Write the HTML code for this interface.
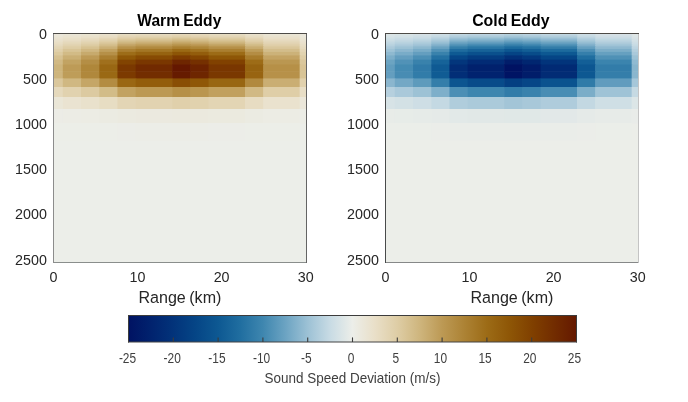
<!DOCTYPE html>
<html><head><meta charset="utf-8"><title>Eddy sound speed deviation</title>
<style>
html,body{margin:0;padding:0;background:#fff;}
body{width:688px;height:402px;overflow:hidden;}
svg{display:block;}
text{font-family:"Liberation Sans",sans-serif;fill:#262626;}
.tk{font-size:14.6px;}
.lb{font-size:16.5px;word-spacing:-1px;}
.tt{word-spacing:-1.2px;font-size:16.3px;font-weight:bold;fill:#000;}
.ck{font-size:15px;fill:#404040;}
.cl{font-size:14.2px;fill:#404040;}
</style></head><body>
<svg width="688" height="402" viewBox="0 0 688 402">
<defs><linearGradient id="cb" x1="0" x2="1" y1="0" y2="0">
<stop offset="0.0000" stop-color="#001262"/>
<stop offset="0.0500" stop-color="#01226e"/>
<stop offset="0.1000" stop-color="#02337a"/>
<stop offset="0.1500" stop-color="#054586"/>
<stop offset="0.2000" stop-color="#0d5892"/>
<stop offset="0.2500" stop-color="#206ea0"/>
<stop offset="0.3000" stop-color="#3e86af"/>
<stop offset="0.3500" stop-color="#6ba3c2"/>
<stop offset="0.4000" stop-color="#9cc1d5"/>
<stop offset="0.4500" stop-color="#c8dbe4"/>
<stop offset="0.5000" stop-color="#eceee9"/>
<stop offset="0.5500" stop-color="#e9dfc8"/>
<stop offset="0.6000" stop-color="#decda5"/>
<stop offset="0.6500" stop-color="#ceb57d"/>
<stop offset="0.7000" stop-color="#bc9954"/>
<stop offset="0.7500" stop-color="#ac8234"/>
<stop offset="0.8000" stop-color="#9c6b16"/>
<stop offset="0.8500" stop-color="#8e5606"/>
<stop offset="0.9000" stop-color="#804000"/>
<stop offset="0.9500" stop-color="#722c00"/>
<stop offset="1.0000" stop-color="#641800"/>
</linearGradient></defs>
<rect width="688" height="402" fill="#fff"/>
<g>
<rect x="53.50" y="33.50" width="253.00" height="229.00" fill="#eceee9"/>
<rect x="53.50" y="33.50" width="9.90" height="1.69" fill="#ebe8dc"/>
<rect x="62.80" y="33.50" width="18.82" height="1.69" fill="#ebe7d9"/>
<rect x="81.02" y="33.50" width="18.82" height="1.69" fill="#eae5d5"/>
<rect x="99.24" y="33.50" width="18.82" height="1.69" fill="#eae2cf"/>
<rect x="117.46" y="33.50" width="18.82" height="1.69" fill="#e8dec6"/>
<rect x="135.68" y="33.50" width="37.04" height="1.69" fill="#e7dcc3"/>
<rect x="172.12" y="33.50" width="18.82" height="1.69" fill="#e6dabf"/>
<rect x="190.34" y="33.50" width="18.82" height="1.69" fill="#e7dcc1"/>
<rect x="208.56" y="33.50" width="37.04" height="1.69" fill="#e8dec5"/>
<rect x="245.00" y="33.50" width="18.82" height="1.69" fill="#eae2ce"/>
<rect x="263.22" y="33.50" width="37.04" height="1.69" fill="#eae6d7"/>
<rect x="299.66" y="33.50" width="6.84" height="1.69" fill="#ebe9df"/>
<rect x="53.50" y="34.59" width="9.90" height="0.81" fill="#ebe7db"/>
<rect x="62.80" y="34.59" width="18.82" height="0.81" fill="#eae6d7"/>
<rect x="81.02" y="34.59" width="18.82" height="0.81" fill="#eae4d2"/>
<rect x="99.24" y="34.59" width="18.82" height="0.81" fill="#e9e1cc"/>
<rect x="117.46" y="34.59" width="18.82" height="0.81" fill="#e7dbc1"/>
<rect x="135.68" y="34.59" width="37.04" height="0.81" fill="#e6dabe"/>
<rect x="172.12" y="34.59" width="18.82" height="0.81" fill="#e4d7b9"/>
<rect x="190.34" y="34.59" width="18.82" height="0.81" fill="#e5d9bc"/>
<rect x="208.56" y="34.59" width="37.04" height="0.81" fill="#e7dbc0"/>
<rect x="245.00" y="34.59" width="18.82" height="0.81" fill="#e9e0cb"/>
<rect x="263.22" y="34.59" width="37.04" height="0.81" fill="#eae5d4"/>
<rect x="299.66" y="34.59" width="6.84" height="0.81" fill="#ebe9de"/>
<rect x="53.50" y="34.80" width="9.90" height="0.85" fill="#ebe7da"/>
<rect x="62.80" y="34.80" width="18.82" height="0.85" fill="#eae5d6"/>
<rect x="81.02" y="34.80" width="18.82" height="0.85" fill="#eae3d2"/>
<rect x="99.24" y="34.80" width="18.82" height="0.85" fill="#e9e0cb"/>
<rect x="117.46" y="34.80" width="18.82" height="0.85" fill="#e6dbc0"/>
<rect x="135.68" y="34.80" width="37.04" height="0.85" fill="#e5d9bc"/>
<rect x="172.12" y="34.80" width="18.82" height="0.85" fill="#e4d7b8"/>
<rect x="190.34" y="34.80" width="18.82" height="0.85" fill="#e5d8ba"/>
<rect x="208.56" y="34.80" width="37.04" height="0.85" fill="#e6dabf"/>
<rect x="245.00" y="34.80" width="18.82" height="0.85" fill="#e9e0ca"/>
<rect x="263.22" y="34.80" width="37.04" height="0.85" fill="#eae4d4"/>
<rect x="299.66" y="34.80" width="6.84" height="0.85" fill="#ebe9dd"/>
<rect x="53.50" y="35.05" width="9.90" height="0.90" fill="#ebe7da"/>
<rect x="62.80" y="35.05" width="18.82" height="0.90" fill="#eae5d5"/>
<rect x="81.02" y="35.05" width="18.82" height="0.90" fill="#eae3d1"/>
<rect x="99.24" y="35.05" width="18.82" height="0.90" fill="#e9e0ca"/>
<rect x="117.46" y="35.05" width="18.82" height="0.90" fill="#e6dabe"/>
<rect x="135.68" y="35.05" width="37.04" height="0.90" fill="#e5d8bb"/>
<rect x="172.12" y="35.05" width="18.82" height="0.90" fill="#e3d6b6"/>
<rect x="190.34" y="35.05" width="18.82" height="0.90" fill="#e4d7b9"/>
<rect x="208.56" y="35.05" width="37.04" height="0.90" fill="#e6dabe"/>
<rect x="245.00" y="35.05" width="18.82" height="0.90" fill="#e9dfc9"/>
<rect x="263.22" y="35.05" width="37.04" height="0.90" fill="#eae4d3"/>
<rect x="299.66" y="35.05" width="6.84" height="0.90" fill="#ebe9dd"/>
<rect x="53.50" y="35.35" width="9.90" height="0.96" fill="#ebe7d9"/>
<rect x="62.80" y="35.35" width="18.82" height="0.96" fill="#eae5d4"/>
<rect x="81.02" y="35.35" width="18.82" height="0.96" fill="#eae3d0"/>
<rect x="99.24" y="35.35" width="18.82" height="0.96" fill="#e9dfc9"/>
<rect x="117.46" y="35.35" width="18.82" height="0.96" fill="#e5d9bc"/>
<rect x="135.68" y="35.35" width="37.04" height="0.96" fill="#e4d7b9"/>
<rect x="172.12" y="35.35" width="18.82" height="0.96" fill="#e3d4b3"/>
<rect x="190.34" y="35.35" width="18.82" height="0.96" fill="#e4d6b7"/>
<rect x="208.56" y="35.35" width="37.04" height="0.96" fill="#e5d9bc"/>
<rect x="245.00" y="35.35" width="18.82" height="0.96" fill="#e9dfc7"/>
<rect x="263.22" y="35.35" width="37.04" height="0.96" fill="#eae4d2"/>
<rect x="299.66" y="35.35" width="6.84" height="0.96" fill="#ebe8dc"/>
<rect x="53.50" y="35.71" width="9.90" height="1.03" fill="#eae6d8"/>
<rect x="62.80" y="35.71" width="18.82" height="1.03" fill="#eae4d4"/>
<rect x="81.02" y="35.71" width="18.82" height="1.03" fill="#eae2cf"/>
<rect x="99.24" y="35.71" width="18.82" height="1.03" fill="#e9dec7"/>
<rect x="117.46" y="35.71" width="18.82" height="1.03" fill="#e5d8ba"/>
<rect x="135.68" y="35.71" width="37.04" height="1.03" fill="#e3d6b6"/>
<rect x="172.12" y="35.71" width="18.82" height="1.03" fill="#e2d3b1"/>
<rect x="190.34" y="35.71" width="18.82" height="1.03" fill="#e3d5b4"/>
<rect x="208.56" y="35.71" width="37.04" height="1.03" fill="#e4d8b9"/>
<rect x="245.00" y="35.71" width="18.82" height="1.03" fill="#e8dec6"/>
<rect x="263.22" y="35.71" width="37.04" height="1.03" fill="#eae3d1"/>
<rect x="299.66" y="35.71" width="6.84" height="1.03" fill="#ebe8dc"/>
<rect x="53.50" y="36.14" width="9.90" height="1.11" fill="#eae6d7"/>
<rect x="62.80" y="36.14" width="18.82" height="1.11" fill="#eae4d2"/>
<rect x="81.02" y="36.14" width="18.82" height="1.11" fill="#e9e1cd"/>
<rect x="99.24" y="36.14" width="18.82" height="1.11" fill="#e8ddc5"/>
<rect x="117.46" y="36.14" width="18.82" height="1.11" fill="#e4d6b7"/>
<rect x="135.68" y="36.14" width="37.04" height="1.11" fill="#e2d4b3"/>
<rect x="172.12" y="36.14" width="18.82" height="1.11" fill="#e1d1ad"/>
<rect x="190.34" y="36.14" width="18.82" height="1.11" fill="#e2d3b1"/>
<rect x="208.56" y="36.14" width="37.04" height="1.11" fill="#e3d6b6"/>
<rect x="245.00" y="36.14" width="18.82" height="1.11" fill="#e8ddc3"/>
<rect x="263.22" y="36.14" width="37.04" height="1.11" fill="#eae2cf"/>
<rect x="299.66" y="36.14" width="6.84" height="1.11" fill="#ebe8db"/>
<rect x="53.50" y="36.65" width="9.90" height="1.21" fill="#eae5d6"/>
<rect x="62.80" y="36.65" width="18.82" height="1.21" fill="#eae3d0"/>
<rect x="81.02" y="36.65" width="18.82" height="1.21" fill="#e9e0cb"/>
<rect x="99.24" y="36.65" width="18.82" height="1.21" fill="#e7dcc1"/>
<rect x="117.46" y="36.65" width="18.82" height="1.21" fill="#e2d4b3"/>
<rect x="135.68" y="36.65" width="37.04" height="1.21" fill="#e1d2ae"/>
<rect x="172.12" y="36.65" width="18.82" height="1.21" fill="#dfcea8"/>
<rect x="190.34" y="36.65" width="18.82" height="1.21" fill="#e0d0ac"/>
<rect x="208.56" y="36.65" width="37.04" height="1.21" fill="#e2d4b2"/>
<rect x="245.00" y="36.65" width="18.82" height="1.21" fill="#e6dbc0"/>
<rect x="263.22" y="36.65" width="37.04" height="1.21" fill="#e9e1cd"/>
<rect x="299.66" y="36.65" width="6.84" height="1.21" fill="#ebe7da"/>
<rect x="53.50" y="37.25" width="9.90" height="1.32" fill="#eae4d4"/>
<rect x="62.80" y="37.25" width="18.82" height="1.32" fill="#eae2ce"/>
<rect x="81.02" y="37.25" width="18.82" height="1.32" fill="#e9dfc8"/>
<rect x="99.24" y="37.25" width="18.82" height="1.32" fill="#e6dabe"/>
<rect x="117.46" y="37.25" width="18.82" height="1.32" fill="#e1d1ad"/>
<rect x="135.68" y="37.25" width="37.04" height="1.32" fill="#dfcfa8"/>
<rect x="172.12" y="37.25" width="18.82" height="1.32" fill="#dccba1"/>
<rect x="190.34" y="37.25" width="18.82" height="1.32" fill="#decda6"/>
<rect x="208.56" y="37.25" width="37.04" height="1.32" fill="#e0d1ad"/>
<rect x="245.00" y="37.25" width="18.82" height="1.32" fill="#e5d9bc"/>
<rect x="263.22" y="37.25" width="37.04" height="1.32" fill="#e9e0cb"/>
<rect x="299.66" y="37.25" width="6.84" height="1.32" fill="#eae6d8"/>
<rect x="53.50" y="37.98" width="9.90" height="1.46" fill="#eae3d2"/>
<rect x="62.80" y="37.98" width="18.82" height="1.46" fill="#e9e0cb"/>
<rect x="81.02" y="37.98" width="18.82" height="1.46" fill="#e8ddc4"/>
<rect x="99.24" y="37.98" width="18.82" height="1.46" fill="#e4d7b9"/>
<rect x="117.46" y="37.98" width="18.82" height="1.46" fill="#dfcea7"/>
<rect x="135.68" y="37.98" width="37.04" height="1.46" fill="#dccba1"/>
<rect x="172.12" y="37.98" width="18.82" height="1.46" fill="#d9c699"/>
<rect x="190.34" y="37.98" width="18.82" height="1.46" fill="#dbc99e"/>
<rect x="208.56" y="37.98" width="37.04" height="1.46" fill="#decea6"/>
<rect x="245.00" y="37.98" width="18.82" height="1.46" fill="#e4d6b7"/>
<rect x="263.22" y="37.98" width="37.04" height="1.46" fill="#e9dfc7"/>
<rect x="299.66" y="37.98" width="6.84" height="1.46" fill="#eae6d7"/>
<rect x="53.50" y="38.84" width="9.90" height="1.63" fill="#eae2cf"/>
<rect x="62.80" y="38.84" width="18.82" height="1.63" fill="#e9dfc8"/>
<rect x="81.02" y="38.84" width="18.82" height="1.63" fill="#e6dbc0"/>
<rect x="99.24" y="38.84" width="18.82" height="1.63" fill="#e3d4b3"/>
<rect x="117.46" y="38.84" width="18.82" height="1.63" fill="#dcc99f"/>
<rect x="135.68" y="38.84" width="37.04" height="1.63" fill="#d9c598"/>
<rect x="172.12" y="38.84" width="18.82" height="1.63" fill="#d5bf8e"/>
<rect x="190.34" y="38.84" width="18.82" height="1.63" fill="#d7c394"/>
<rect x="208.56" y="38.84" width="37.04" height="1.63" fill="#dbc99e"/>
<rect x="245.00" y="38.84" width="18.82" height="1.63" fill="#e2d3b2"/>
<rect x="263.22" y="38.84" width="37.04" height="1.63" fill="#e8ddc4"/>
<rect x="299.66" y="38.84" width="6.84" height="1.63" fill="#eae5d5"/>
<rect x="53.50" y="39.87" width="9.90" height="1.83" fill="#e9e1cc"/>
<rect x="62.80" y="39.87" width="18.82" height="1.83" fill="#e8ddc4"/>
<rect x="81.02" y="39.87" width="18.82" height="1.83" fill="#e5d8bb"/>
<rect x="99.24" y="39.87" width="18.82" height="1.83" fill="#e0d1ad"/>
<rect x="117.46" y="39.87" width="18.82" height="1.83" fill="#d7c394"/>
<rect x="135.68" y="39.87" width="37.04" height="1.83" fill="#d4be8d"/>
<rect x="172.12" y="39.87" width="18.82" height="1.83" fill="#d0b882"/>
<rect x="190.34" y="39.87" width="18.82" height="1.83" fill="#d3bc88"/>
<rect x="208.56" y="39.87" width="37.04" height="1.83" fill="#d7c293"/>
<rect x="245.00" y="39.87" width="18.82" height="1.83" fill="#e0d0ab"/>
<rect x="263.22" y="39.87" width="37.04" height="1.83" fill="#e6dabf"/>
<rect x="299.66" y="39.87" width="6.84" height="1.83" fill="#eae4d2"/>
<rect x="53.50" y="41.10" width="9.90" height="2.07" fill="#e9dfc8"/>
<rect x="62.80" y="41.10" width="18.82" height="2.07" fill="#e6dabe"/>
<rect x="81.02" y="41.10" width="18.82" height="2.07" fill="#e3d5b4"/>
<rect x="99.24" y="41.10" width="18.82" height="2.07" fill="#decda4"/>
<rect x="117.46" y="41.10" width="18.82" height="2.07" fill="#d2bc88"/>
<rect x="135.68" y="41.10" width="37.04" height="2.07" fill="#cfb67f"/>
<rect x="172.12" y="41.10" width="18.82" height="2.07" fill="#caae73"/>
<rect x="190.34" y="41.10" width="18.82" height="2.07" fill="#cdb37a"/>
<rect x="208.56" y="41.10" width="37.04" height="2.07" fill="#d2bb86"/>
<rect x="245.00" y="41.10" width="18.82" height="2.07" fill="#ddcba2"/>
<rect x="263.22" y="41.10" width="37.04" height="2.07" fill="#e4d7b9"/>
<rect x="299.66" y="41.10" width="6.84" height="2.07" fill="#eae2cf"/>
<rect x="53.50" y="42.57" width="9.90" height="2.35" fill="#e8ddc3"/>
<rect x="62.80" y="42.57" width="18.82" height="2.35" fill="#e4d7b8"/>
<rect x="81.02" y="42.57" width="18.82" height="2.35" fill="#e0d1ac"/>
<rect x="99.24" y="42.57" width="18.82" height="2.35" fill="#d9c598"/>
<rect x="117.46" y="42.57" width="18.82" height="2.35" fill="#ccb178"/>
<rect x="135.68" y="42.57" width="37.04" height="2.35" fill="#c7aa6d"/>
<rect x="172.12" y="42.57" width="18.82" height="2.35" fill="#c1a15f"/>
<rect x="190.34" y="42.57" width="18.82" height="2.35" fill="#c5a668"/>
<rect x="208.56" y="42.57" width="37.04" height="2.35" fill="#cbb076"/>
<rect x="245.00" y="42.57" width="18.82" height="2.35" fill="#d8c496"/>
<rect x="263.22" y="42.57" width="37.04" height="2.35" fill="#e2d3b2"/>
<rect x="299.66" y="42.57" width="6.84" height="2.35" fill="#e9e1cb"/>
<rect x="53.50" y="44.32" width="9.90" height="2.69" fill="#e5d9bd"/>
<rect x="62.80" y="44.32" width="18.82" height="2.69" fill="#e1d2af"/>
<rect x="81.02" y="44.32" width="18.82" height="2.69" fill="#dccba1"/>
<rect x="99.24" y="44.32" width="18.82" height="2.69" fill="#d3bc89"/>
<rect x="117.46" y="44.32" width="18.82" height="2.69" fill="#c2a262"/>
<rect x="135.68" y="44.32" width="37.04" height="2.69" fill="#bd9a55"/>
<rect x="172.12" y="44.32" width="18.82" height="2.69" fill="#b69148"/>
<rect x="190.34" y="44.32" width="18.82" height="2.69" fill="#ba9650"/>
<rect x="208.56" y="44.32" width="37.04" height="2.69" fill="#c1a15f"/>
<rect x="245.00" y="44.32" width="18.82" height="2.69" fill="#d1ba85"/>
<rect x="263.22" y="44.32" width="37.04" height="2.69" fill="#dfcea8"/>
<rect x="299.66" y="44.32" width="6.84" height="2.69" fill="#e8dec6"/>
<rect x="53.50" y="46.41" width="9.90" height="3.09" fill="#e3d5b4"/>
<rect x="62.80" y="46.41" width="18.82" height="3.09" fill="#decda5"/>
<rect x="81.02" y="46.41" width="18.82" height="3.09" fill="#d7c292"/>
<rect x="99.24" y="46.41" width="18.82" height="3.09" fill="#cbb076"/>
<rect x="117.46" y="46.41" width="18.82" height="3.09" fill="#b7924a"/>
<rect x="135.68" y="46.41" width="37.04" height="3.09" fill="#b18a3f"/>
<rect x="172.12" y="46.41" width="18.82" height="3.09" fill="#aa7f30"/>
<rect x="190.34" y="46.41" width="18.82" height="3.09" fill="#ae8639"/>
<rect x="208.56" y="46.41" width="37.04" height="3.09" fill="#b69048"/>
<rect x="245.00" y="46.41" width="18.82" height="3.09" fill="#c9ad71"/>
<rect x="263.22" y="46.41" width="37.04" height="3.09" fill="#dac79b"/>
<rect x="299.66" y="46.41" width="6.84" height="3.09" fill="#e6dbc0"/>
<rect x="53.50" y="48.90" width="9.90" height="3.57" fill="#e0d0ab"/>
<rect x="62.80" y="48.90" width="18.82" height="3.57" fill="#d8c496"/>
<rect x="81.02" y="48.90" width="18.82" height="3.57" fill="#d0b781"/>
<rect x="99.24" y="48.90" width="18.82" height="3.57" fill="#c1a05e"/>
<rect x="117.46" y="48.90" width="18.82" height="3.57" fill="#ab8032"/>
<rect x="135.68" y="48.90" width="37.04" height="3.57" fill="#a47725"/>
<rect x="172.12" y="48.90" width="18.82" height="3.57" fill="#9b6a15"/>
<rect x="190.34" y="48.90" width="18.82" height="3.57" fill="#a1721f"/>
<rect x="208.56" y="48.90" width="37.04" height="3.57" fill="#aa7f30"/>
<rect x="245.00" y="48.90" width="18.82" height="3.57" fill="#be9d59"/>
<rect x="263.22" y="48.90" width="37.04" height="3.57" fill="#d3bd8b"/>
<rect x="299.66" y="48.90" width="6.84" height="3.57" fill="#e4d7b8"/>
<rect x="53.50" y="51.88" width="9.90" height="4.15" fill="#dcca9f"/>
<rect x="62.80" y="51.88" width="18.82" height="4.15" fill="#d2bb86"/>
<rect x="81.02" y="51.88" width="18.82" height="4.15" fill="#c7aa6d"/>
<rect x="99.24" y="51.88" width="18.82" height="4.15" fill="#b69048"/>
<rect x="117.46" y="51.88" width="18.82" height="4.15" fill="#9d6d18"/>
<rect x="135.68" y="51.88" width="37.04" height="4.15" fill="#966310"/>
<rect x="172.12" y="51.88" width="18.82" height="4.15" fill="#8d5506"/>
<rect x="190.34" y="51.88" width="18.82" height="4.15" fill="#935d0c"/>
<rect x="208.56" y="51.88" width="37.04" height="4.15" fill="#9c6b16"/>
<rect x="245.00" y="51.88" width="18.82" height="4.15" fill="#b48d44"/>
<rect x="263.22" y="51.88" width="37.04" height="4.15" fill="#ccb279"/>
<rect x="299.66" y="51.88" width="6.84" height="4.15" fill="#e1d3b0"/>
<rect x="53.50" y="55.42" width="9.90" height="4.83" fill="#d6c191"/>
<rect x="62.80" y="55.42" width="18.82" height="4.83" fill="#caaf74"/>
<rect x="81.02" y="55.42" width="18.82" height="4.83" fill="#bd9a56"/>
<rect x="99.24" y="55.42" width="18.82" height="4.83" fill="#aa7f31"/>
<rect x="117.46" y="55.42" width="18.82" height="4.83" fill="#8f5807"/>
<rect x="135.68" y="55.42" width="37.04" height="4.83" fill="#874b03"/>
<rect x="172.12" y="55.42" width="18.82" height="4.83" fill="#7d3b00"/>
<rect x="190.34" y="55.42" width="18.82" height="4.83" fill="#834501"/>
<rect x="208.56" y="55.42" width="37.04" height="4.83" fill="#8e5606"/>
<rect x="245.00" y="55.42" width="18.82" height="4.83" fill="#a87c2c"/>
<rect x="263.22" y="55.42" width="37.04" height="4.83" fill="#c3a363"/>
<rect x="299.66" y="55.42" width="6.84" height="4.83" fill="#decda6"/>
<rect x="53.50" y="59.65" width="9.90" height="5.45" fill="#d1b984"/>
<rect x="62.80" y="59.65" width="18.82" height="5.45" fill="#c2a362"/>
<rect x="81.02" y="59.65" width="18.82" height="5.45" fill="#b48e45"/>
<rect x="99.24" y="59.65" width="18.82" height="5.45" fill="#a0701d"/>
<rect x="117.46" y="59.65" width="18.82" height="5.45" fill="#824401"/>
<rect x="135.68" y="59.65" width="37.04" height="5.45" fill="#7a3700"/>
<rect x="172.12" y="59.65" width="18.82" height="5.45" fill="#6e2600"/>
<rect x="190.34" y="59.65" width="18.82" height="5.45" fill="#753000"/>
<rect x="208.56" y="59.65" width="37.04" height="5.45" fill="#814100"/>
<rect x="245.00" y="59.65" width="18.82" height="5.45" fill="#9d6c17"/>
<rect x="263.22" y="59.65" width="37.04" height="5.45" fill="#ba9751"/>
<rect x="299.66" y="59.65" width="6.84" height="5.45" fill="#dac79c"/>
<rect x="53.50" y="64.50" width="9.90" height="7.30" fill="#cdb47b"/>
<rect x="62.80" y="64.50" width="18.82" height="7.30" fill="#bd9b57"/>
<rect x="81.02" y="64.50" width="18.82" height="7.30" fill="#af873a"/>
<rect x="99.24" y="64.50" width="18.82" height="7.30" fill="#996713"/>
<rect x="117.46" y="64.50" width="18.82" height="7.30" fill="#7a3800"/>
<rect x="135.68" y="64.50" width="37.04" height="7.30" fill="#712a00"/>
<rect x="172.12" y="64.50" width="18.82" height="7.30" fill="#641800"/>
<rect x="190.34" y="64.50" width="18.82" height="7.30" fill="#6c2300"/>
<rect x="208.56" y="64.50" width="37.04" height="7.30" fill="#793600"/>
<rect x="245.00" y="64.50" width="18.82" height="7.30" fill="#966310"/>
<rect x="263.22" y="64.50" width="37.04" height="7.30" fill="#b69047"/>
<rect x="299.66" y="64.50" width="6.84" height="7.30" fill="#d8c395"/>
<rect x="53.50" y="71.20" width="9.90" height="7.80" fill="#ceb57d"/>
<rect x="62.80" y="71.20" width="18.82" height="7.80" fill="#be9d59"/>
<rect x="81.02" y="71.20" width="18.82" height="7.80" fill="#b0883c"/>
<rect x="99.24" y="71.20" width="18.82" height="7.80" fill="#9a6914"/>
<rect x="117.46" y="71.20" width="18.82" height="7.80" fill="#7c3a00"/>
<rect x="135.68" y="71.20" width="37.04" height="7.80" fill="#732d00"/>
<rect x="172.12" y="71.20" width="18.82" height="7.80" fill="#661b00"/>
<rect x="190.34" y="71.20" width="18.82" height="7.80" fill="#6e2600"/>
<rect x="208.56" y="71.20" width="37.04" height="7.80" fill="#7a3800"/>
<rect x="245.00" y="71.20" width="18.82" height="7.80" fill="#986411"/>
<rect x="263.22" y="71.20" width="37.04" height="7.80" fill="#b79149"/>
<rect x="299.66" y="71.20" width="6.84" height="7.80" fill="#d8c496"/>
<rect x="53.50" y="78.40" width="9.90" height="9.20" fill="#dac79c"/>
<rect x="62.80" y="78.40" width="18.82" height="9.20" fill="#d0b882"/>
<rect x="81.02" y="78.40" width="18.82" height="9.20" fill="#c5a667"/>
<rect x="99.24" y="78.40" width="18.82" height="9.20" fill="#b38c42"/>
<rect x="117.46" y="78.40" width="18.82" height="9.20" fill="#9a6713"/>
<rect x="135.68" y="78.40" width="37.04" height="9.20" fill="#935d0b"/>
<rect x="172.12" y="78.40" width="18.82" height="9.20" fill="#894e04"/>
<rect x="190.34" y="78.40" width="18.82" height="9.20" fill="#8f5707"/>
<rect x="208.56" y="78.40" width="37.04" height="9.20" fill="#986612"/>
<rect x="245.00" y="78.40" width="18.82" height="9.20" fill="#b1893e"/>
<rect x="263.22" y="78.40" width="37.04" height="9.20" fill="#caae73"/>
<rect x="299.66" y="78.40" width="6.84" height="9.20" fill="#e1d1ad"/>
<rect x="53.50" y="87.00" width="9.90" height="10.60" fill="#e5d9bc"/>
<rect x="62.80" y="87.00" width="18.82" height="10.60" fill="#e1d2af"/>
<rect x="81.02" y="87.00" width="18.82" height="10.60" fill="#dccaa1"/>
<rect x="99.24" y="87.00" width="18.82" height="10.60" fill="#d2bc88"/>
<rect x="117.46" y="87.00" width="18.82" height="10.60" fill="#c2a261"/>
<rect x="135.68" y="87.00" width="37.04" height="10.60" fill="#bc9954"/>
<rect x="172.12" y="87.00" width="18.82" height="10.60" fill="#b69047"/>
<rect x="190.34" y="87.00" width="18.82" height="10.60" fill="#ba964f"/>
<rect x="208.56" y="87.00" width="37.04" height="10.60" fill="#c1a05e"/>
<rect x="245.00" y="87.00" width="18.82" height="10.60" fill="#d1b984"/>
<rect x="263.22" y="87.00" width="37.04" height="10.60" fill="#dfcea7"/>
<rect x="299.66" y="87.00" width="6.84" height="10.60" fill="#e8dec6"/>
<rect x="53.50" y="97.00" width="9.90" height="12.60" fill="#eae6d7"/>
<rect x="62.80" y="97.00" width="18.82" height="12.60" fill="#eae3d1"/>
<rect x="81.02" y="97.00" width="18.82" height="12.60" fill="#e9e1cc"/>
<rect x="99.24" y="97.00" width="18.82" height="12.60" fill="#e7ddc3"/>
<rect x="117.46" y="97.00" width="18.82" height="12.60" fill="#e3d5b5"/>
<rect x="135.68" y="97.00" width="37.04" height="12.60" fill="#e2d3b1"/>
<rect x="172.12" y="97.00" width="18.82" height="12.60" fill="#e0d0ab"/>
<rect x="190.34" y="97.00" width="18.82" height="12.60" fill="#e1d2ae"/>
<rect x="208.56" y="97.00" width="37.04" height="12.60" fill="#e3d5b4"/>
<rect x="245.00" y="97.00" width="18.82" height="12.60" fill="#e7dcc2"/>
<rect x="263.22" y="97.00" width="37.04" height="12.60" fill="#eae2ce"/>
<rect x="299.66" y="97.00" width="6.84" height="12.60" fill="#ebe7da"/>
<rect x="53.50" y="109.00" width="9.90" height="14.60" fill="#ecece6"/>
<rect x="62.80" y="109.00" width="18.82" height="14.60" fill="#ecece5"/>
<rect x="81.02" y="109.00" width="18.82" height="14.60" fill="#ecece4"/>
<rect x="99.24" y="109.00" width="18.82" height="14.60" fill="#ebebe2"/>
<rect x="117.46" y="109.00" width="18.82" height="14.60" fill="#ebeae0"/>
<rect x="135.68" y="109.00" width="37.04" height="14.60" fill="#ebe9df"/>
<rect x="172.12" y="109.00" width="37.04" height="14.60" fill="#ebe9de"/>
<rect x="208.56" y="109.00" width="37.04" height="14.60" fill="#ebeadf"/>
<rect x="245.00" y="109.00" width="18.82" height="14.60" fill="#ebebe2"/>
<rect x="263.22" y="109.00" width="37.04" height="14.60" fill="#ecece4"/>
<rect x="299.66" y="109.00" width="6.84" height="14.60" fill="#ecede6"/>
<rect x="53.50" y="123.00" width="64.56" height="17.60" fill="#eceee8"/>
<rect x="117.46" y="123.00" width="18.82" height="17.60" fill="#ecede8"/>
<rect x="135.68" y="123.00" width="73.48" height="17.60" fill="#ecede7"/>
<rect x="208.56" y="123.00" width="37.04" height="17.60" fill="#ecede8"/>
<rect x="245.00" y="123.00" width="55.26" height="17.60" fill="#eceee8"/>
</g>
<path d="M53.0 262.5 H307.0" stroke="#8a8e8c" stroke-width="1"/>
<path d="M306.5 33.0 V263.0" stroke="#646464" stroke-width="1"/>
<path d="M53.5 33.0 V263.0" stroke="#8c8c8c" stroke-width="1"/>
<path d="M53.0 33.5 H307.0" stroke="#4d4b47" stroke-width="1"/>
<g>
<rect x="385.50" y="33.50" width="253.00" height="229.00" fill="#eceee9"/>
<rect x="385.50" y="33.50" width="9.90" height="1.69" fill="#dde6e7"/>
<rect x="394.80" y="33.50" width="18.82" height="1.69" fill="#dbe5e7"/>
<rect x="413.02" y="33.50" width="18.82" height="1.69" fill="#d8e3e6"/>
<rect x="431.24" y="33.50" width="18.82" height="1.69" fill="#d1e0e5"/>
<rect x="449.46" y="33.50" width="18.82" height="1.69" fill="#c5d9e3"/>
<rect x="467.68" y="33.50" width="37.04" height="1.69" fill="#c2d7e2"/>
<rect x="504.12" y="33.50" width="18.82" height="1.69" fill="#bcd4e0"/>
<rect x="522.34" y="33.50" width="18.82" height="1.69" fill="#c0d6e1"/>
<rect x="540.56" y="33.50" width="37.04" height="1.69" fill="#c5d9e3"/>
<rect x="577.00" y="33.50" width="18.82" height="1.69" fill="#d0dfe5"/>
<rect x="595.22" y="33.50" width="37.04" height="1.69" fill="#d8e3e6"/>
<rect x="631.66" y="33.50" width="6.84" height="1.69" fill="#e1e8e7"/>
<rect x="385.50" y="34.59" width="9.90" height="0.81" fill="#dce5e7"/>
<rect x="394.80" y="34.59" width="18.82" height="0.81" fill="#d8e4e6"/>
<rect x="413.02" y="34.59" width="18.82" height="0.81" fill="#d5e2e6"/>
<rect x="431.24" y="34.59" width="18.82" height="0.81" fill="#cedee5"/>
<rect x="449.46" y="34.59" width="18.82" height="0.81" fill="#bfd6e1"/>
<rect x="467.68" y="34.59" width="37.04" height="0.81" fill="#bbd3e0"/>
<rect x="504.12" y="34.59" width="18.82" height="0.81" fill="#b5d0de"/>
<rect x="522.34" y="34.59" width="18.82" height="0.81" fill="#b9d2df"/>
<rect x="540.56" y="34.59" width="37.04" height="0.81" fill="#bed5e1"/>
<rect x="577.00" y="34.59" width="18.82" height="0.81" fill="#cddee5"/>
<rect x="595.22" y="34.59" width="37.04" height="0.81" fill="#d5e2e6"/>
<rect x="631.66" y="34.59" width="6.84" height="0.81" fill="#e0e7e7"/>
<rect x="385.50" y="34.80" width="9.90" height="0.85" fill="#dbe5e7"/>
<rect x="394.80" y="34.80" width="18.82" height="0.85" fill="#d8e3e6"/>
<rect x="413.02" y="34.80" width="18.82" height="0.85" fill="#d4e1e6"/>
<rect x="431.24" y="34.80" width="18.82" height="0.85" fill="#cddde5"/>
<rect x="449.46" y="34.80" width="18.82" height="0.85" fill="#bed5e0"/>
<rect x="467.68" y="34.80" width="37.04" height="0.85" fill="#b9d2df"/>
<rect x="504.12" y="34.80" width="18.82" height="0.85" fill="#b3cfdd"/>
<rect x="522.34" y="34.80" width="18.82" height="0.85" fill="#b7d1de"/>
<rect x="540.56" y="34.80" width="37.04" height="0.85" fill="#bdd4e0"/>
<rect x="577.00" y="34.80" width="18.82" height="0.85" fill="#ccdde5"/>
<rect x="595.22" y="34.80" width="37.04" height="0.85" fill="#d5e2e6"/>
<rect x="631.66" y="34.80" width="6.84" height="0.85" fill="#dfe7e7"/>
<rect x="385.50" y="35.05" width="9.90" height="0.90" fill="#dae5e7"/>
<rect x="394.80" y="35.05" width="18.82" height="0.90" fill="#d7e3e6"/>
<rect x="413.02" y="35.05" width="18.82" height="0.90" fill="#d3e1e6"/>
<rect x="431.24" y="35.05" width="18.82" height="0.90" fill="#ccdde4"/>
<rect x="449.46" y="35.05" width="18.82" height="0.90" fill="#bcd4e0"/>
<rect x="467.68" y="35.05" width="37.04" height="0.90" fill="#b7d1de"/>
<rect x="504.12" y="35.05" width="18.82" height="0.90" fill="#b1cddc"/>
<rect x="522.34" y="35.05" width="18.82" height="0.90" fill="#b5d0dd"/>
<rect x="540.56" y="35.05" width="37.04" height="0.90" fill="#bbd3e0"/>
<rect x="577.00" y="35.05" width="18.82" height="0.90" fill="#cbdce4"/>
<rect x="595.22" y="35.05" width="37.04" height="0.90" fill="#d4e1e6"/>
<rect x="631.66" y="35.05" width="6.84" height="0.90" fill="#dfe7e7"/>
<rect x="385.50" y="35.35" width="9.90" height="0.96" fill="#dae4e6"/>
<rect x="394.80" y="35.35" width="18.82" height="0.96" fill="#d6e2e6"/>
<rect x="413.02" y="35.35" width="18.82" height="0.96" fill="#d2e0e5"/>
<rect x="431.24" y="35.35" width="18.82" height="0.96" fill="#cadce4"/>
<rect x="449.46" y="35.35" width="18.82" height="0.96" fill="#b9d2df"/>
<rect x="467.68" y="35.35" width="37.04" height="0.96" fill="#b5d0dd"/>
<rect x="504.12" y="35.35" width="18.82" height="0.96" fill="#aeccdb"/>
<rect x="522.34" y="35.35" width="18.82" height="0.96" fill="#b2cedd"/>
<rect x="540.56" y="35.35" width="37.04" height="0.96" fill="#b9d2df"/>
<rect x="577.00" y="35.35" width="18.82" height="0.96" fill="#c9dce4"/>
<rect x="595.22" y="35.35" width="37.04" height="0.96" fill="#d3e1e6"/>
<rect x="631.66" y="35.35" width="6.84" height="0.96" fill="#dee7e7"/>
<rect x="385.50" y="35.71" width="9.90" height="1.03" fill="#d9e4e6"/>
<rect x="394.80" y="35.71" width="18.82" height="1.03" fill="#d5e2e6"/>
<rect x="413.02" y="35.71" width="18.82" height="1.03" fill="#d1e0e5"/>
<rect x="431.24" y="35.71" width="18.82" height="1.03" fill="#c9dbe4"/>
<rect x="449.46" y="35.71" width="18.82" height="1.03" fill="#b7d1de"/>
<rect x="467.68" y="35.71" width="37.04" height="1.03" fill="#b2cedc"/>
<rect x="504.12" y="35.71" width="18.82" height="1.03" fill="#abcada"/>
<rect x="522.34" y="35.71" width="18.82" height="1.03" fill="#afccdb"/>
<rect x="540.56" y="35.71" width="37.04" height="1.03" fill="#b6d0de"/>
<rect x="577.00" y="35.71" width="18.82" height="1.03" fill="#c8dbe4"/>
<rect x="595.22" y="35.71" width="37.04" height="1.03" fill="#d2e0e5"/>
<rect x="631.66" y="35.71" width="6.84" height="1.03" fill="#dee6e7"/>
<rect x="385.50" y="36.14" width="9.90" height="1.11" fill="#d8e3e6"/>
<rect x="394.80" y="36.14" width="18.82" height="1.11" fill="#d4e1e6"/>
<rect x="413.02" y="36.14" width="18.82" height="1.11" fill="#cfdfe5"/>
<rect x="431.24" y="36.14" width="18.82" height="1.11" fill="#c6dae3"/>
<rect x="449.46" y="36.14" width="18.82" height="1.11" fill="#b3cedd"/>
<rect x="467.68" y="36.14" width="37.04" height="1.11" fill="#adcbdb"/>
<rect x="504.12" y="36.14" width="18.82" height="1.11" fill="#a6c7d8"/>
<rect x="522.34" y="36.14" width="18.82" height="1.11" fill="#abcada"/>
<rect x="540.56" y="36.14" width="37.04" height="1.11" fill="#b2cedc"/>
<rect x="577.00" y="36.14" width="18.82" height="1.11" fill="#c5d9e3"/>
<rect x="595.22" y="36.14" width="37.04" height="1.11" fill="#d0dfe5"/>
<rect x="631.66" y="36.14" width="6.84" height="1.11" fill="#dde6e7"/>
<rect x="385.50" y="36.65" width="9.90" height="1.21" fill="#d6e2e6"/>
<rect x="394.80" y="36.65" width="18.82" height="1.21" fill="#d1e0e5"/>
<rect x="413.02" y="36.65" width="18.82" height="1.21" fill="#cddee5"/>
<rect x="431.24" y="36.65" width="18.82" height="1.21" fill="#c2d7e2"/>
<rect x="449.46" y="36.65" width="18.82" height="1.21" fill="#adcbdb"/>
<rect x="467.68" y="36.65" width="37.04" height="1.21" fill="#a7c8d9"/>
<rect x="504.12" y="36.65" width="18.82" height="1.21" fill="#a0c3d6"/>
<rect x="522.34" y="36.65" width="18.82" height="1.21" fill="#a4c6d8"/>
<rect x="540.56" y="36.65" width="37.04" height="1.21" fill="#accbda"/>
<rect x="577.00" y="36.65" width="18.82" height="1.21" fill="#c1d7e2"/>
<rect x="595.22" y="36.65" width="37.04" height="1.21" fill="#cedee5"/>
<rect x="631.66" y="36.65" width="6.84" height="1.21" fill="#dbe5e7"/>
<rect x="385.50" y="37.25" width="9.90" height="1.32" fill="#d4e1e6"/>
<rect x="394.80" y="37.25" width="18.82" height="1.32" fill="#cfdfe5"/>
<rect x="413.02" y="37.25" width="18.82" height="1.32" fill="#cadce4"/>
<rect x="431.24" y="37.25" width="18.82" height="1.32" fill="#bdd5e0"/>
<rect x="449.46" y="37.25" width="18.82" height="1.32" fill="#a7c7d9"/>
<rect x="467.68" y="37.25" width="37.04" height="1.32" fill="#a0c4d6"/>
<rect x="504.12" y="37.25" width="18.82" height="1.32" fill="#97bed3"/>
<rect x="522.34" y="37.25" width="18.82" height="1.32" fill="#9dc2d5"/>
<rect x="540.56" y="37.25" width="37.04" height="1.32" fill="#a5c7d8"/>
<rect x="577.00" y="37.25" width="18.82" height="1.32" fill="#bcd4e0"/>
<rect x="595.22" y="37.25" width="37.04" height="1.32" fill="#cbdce4"/>
<rect x="631.66" y="37.25" width="6.84" height="1.32" fill="#dae4e6"/>
<rect x="385.50" y="37.98" width="9.90" height="1.46" fill="#d1e0e5"/>
<rect x="394.80" y="37.98" width="18.82" height="1.46" fill="#ccdde5"/>
<rect x="413.02" y="37.98" width="18.82" height="1.46" fill="#c7dae4"/>
<rect x="431.24" y="37.98" width="18.82" height="1.46" fill="#b8d2df"/>
<rect x="449.46" y="37.98" width="18.82" height="1.46" fill="#9fc3d6"/>
<rect x="467.68" y="37.98" width="37.04" height="1.46" fill="#97bed3"/>
<rect x="504.12" y="37.98" width="18.82" height="1.46" fill="#8db8cf"/>
<rect x="522.34" y="37.98" width="18.82" height="1.46" fill="#93bcd2"/>
<rect x="540.56" y="37.98" width="37.04" height="1.46" fill="#9ec2d6"/>
<rect x="577.00" y="37.98" width="18.82" height="1.46" fill="#b6d1de"/>
<rect x="595.22" y="37.98" width="37.04" height="1.46" fill="#c7dbe4"/>
<rect x="631.66" y="37.98" width="6.84" height="1.46" fill="#d8e3e6"/>
<rect x="385.50" y="38.84" width="9.90" height="1.63" fill="#cedee5"/>
<rect x="394.80" y="38.84" width="18.82" height="1.63" fill="#c9dbe4"/>
<rect x="413.02" y="38.84" width="18.82" height="1.63" fill="#c1d7e2"/>
<rect x="431.24" y="38.84" width="18.82" height="1.63" fill="#b1cedc"/>
<rect x="449.46" y="38.84" width="18.82" height="1.63" fill="#94bcd2"/>
<rect x="467.68" y="38.84" width="37.04" height="1.63" fill="#8cb7cf"/>
<rect x="504.12" y="38.84" width="18.82" height="1.63" fill="#80b0ca"/>
<rect x="522.34" y="38.84" width="18.82" height="1.63" fill="#87b4cd"/>
<rect x="540.56" y="38.84" width="37.04" height="1.63" fill="#93bbd1"/>
<rect x="577.00" y="38.84" width="18.82" height="1.63" fill="#afccdc"/>
<rect x="595.22" y="38.84" width="37.04" height="1.63" fill="#c2d8e2"/>
<rect x="631.66" y="38.84" width="6.84" height="1.63" fill="#d6e2e6"/>
<rect x="385.50" y="39.87" width="9.90" height="1.83" fill="#cbdde4"/>
<rect x="394.80" y="39.87" width="18.82" height="1.83" fill="#c3d8e2"/>
<rect x="413.02" y="39.87" width="18.82" height="1.83" fill="#bbd4e0"/>
<rect x="431.24" y="39.87" width="18.82" height="1.83" fill="#a9c9d9"/>
<rect x="449.46" y="39.87" width="18.82" height="1.83" fill="#88b5cd"/>
<rect x="467.68" y="39.87" width="37.04" height="1.83" fill="#7eafc9"/>
<rect x="504.12" y="39.87" width="18.82" height="1.83" fill="#71a7c4"/>
<rect x="522.34" y="39.87" width="18.82" height="1.83" fill="#79acc7"/>
<rect x="540.56" y="39.87" width="37.04" height="1.83" fill="#86b4cc"/>
<rect x="577.00" y="39.87" width="18.82" height="1.83" fill="#a7c8d9"/>
<rect x="595.22" y="39.87" width="37.04" height="1.83" fill="#bcd4e0"/>
<rect x="631.66" y="39.87" width="6.84" height="1.83" fill="#d3e1e6"/>
<rect x="385.50" y="41.10" width="9.90" height="2.07" fill="#c6dae3"/>
<rect x="394.80" y="41.10" width="18.82" height="2.07" fill="#bdd5e0"/>
<rect x="413.02" y="41.10" width="18.82" height="2.07" fill="#b4cfdd"/>
<rect x="431.24" y="41.10" width="18.82" height="2.07" fill="#9fc3d6"/>
<rect x="449.46" y="41.10" width="18.82" height="2.07" fill="#78abc7"/>
<rect x="467.68" y="41.10" width="37.04" height="2.07" fill="#6ea5c3"/>
<rect x="504.12" y="41.10" width="18.82" height="2.07" fill="#609cbd"/>
<rect x="522.34" y="41.10" width="18.82" height="2.07" fill="#68a1c1"/>
<rect x="540.56" y="41.10" width="37.04" height="2.07" fill="#76aac6"/>
<rect x="577.00" y="41.10" width="18.82" height="2.07" fill="#9dc2d5"/>
<rect x="595.22" y="41.10" width="37.04" height="2.07" fill="#b5d0de"/>
<rect x="631.66" y="41.10" width="6.84" height="2.07" fill="#d0dfe5"/>
<rect x="385.50" y="42.57" width="9.90" height="2.35" fill="#bfd6e1"/>
<rect x="394.80" y="42.57" width="18.82" height="2.35" fill="#b5d0de"/>
<rect x="413.02" y="42.57" width="18.82" height="2.35" fill="#aacada"/>
<rect x="431.24" y="42.57" width="18.82" height="2.35" fill="#92bbd1"/>
<rect x="449.46" y="42.57" width="18.82" height="2.35" fill="#659fbf"/>
<rect x="467.68" y="42.57" width="37.04" height="2.35" fill="#5a98bb"/>
<rect x="504.12" y="42.57" width="18.82" height="2.35" fill="#4a8eb4"/>
<rect x="522.34" y="42.57" width="18.82" height="2.35" fill="#5494b8"/>
<rect x="540.56" y="42.57" width="37.04" height="2.35" fill="#639ebf"/>
<rect x="577.00" y="42.57" width="18.82" height="2.35" fill="#8fb9d0"/>
<rect x="595.22" y="42.57" width="37.04" height="2.35" fill="#accada"/>
<rect x="631.66" y="42.57" width="6.84" height="2.35" fill="#ccdde5"/>
<rect x="385.50" y="44.32" width="9.90" height="2.69" fill="#b6d1de"/>
<rect x="394.80" y="44.32" width="18.82" height="2.69" fill="#aac9da"/>
<rect x="413.02" y="44.32" width="18.82" height="2.69" fill="#9ec2d6"/>
<rect x="431.24" y="44.32" width="18.82" height="2.69" fill="#7fafca"/>
<rect x="449.46" y="44.32" width="18.82" height="2.69" fill="#4d90b5"/>
<rect x="467.68" y="44.32" width="37.04" height="2.69" fill="#3f87b0"/>
<rect x="504.12" y="44.32" width="18.82" height="2.69" fill="#337da9"/>
<rect x="522.34" y="44.32" width="18.82" height="2.69" fill="#3a83ad"/>
<rect x="540.56" y="44.32" width="37.04" height="2.69" fill="#4a8eb4"/>
<rect x="577.00" y="44.32" width="18.82" height="2.69" fill="#7cadc9"/>
<rect x="595.22" y="44.32" width="37.04" height="2.69" fill="#9fc3d6"/>
<rect x="631.66" y="44.32" width="6.84" height="2.69" fill="#c6dae3"/>
<rect x="385.50" y="46.41" width="9.90" height="3.09" fill="#accada"/>
<rect x="394.80" y="46.41" width="18.82" height="3.09" fill="#9dc2d5"/>
<rect x="413.02" y="46.41" width="18.82" height="3.09" fill="#8db8cf"/>
<rect x="431.24" y="46.41" width="18.82" height="3.09" fill="#69a2c1"/>
<rect x="449.46" y="46.41" width="18.82" height="3.09" fill="#357faa"/>
<rect x="467.68" y="46.41" width="37.04" height="3.09" fill="#2a76a5"/>
<rect x="504.12" y="46.41" width="18.82" height="3.09" fill="#1d6b9e"/>
<rect x="522.34" y="46.41" width="18.82" height="3.09" fill="#2572a2"/>
<rect x="540.56" y="46.41" width="37.04" height="3.09" fill="#337da9"/>
<rect x="577.00" y="46.41" width="18.82" height="3.09" fill="#66a0c0"/>
<rect x="595.22" y="46.41" width="37.04" height="3.09" fill="#8fb9d0"/>
<rect x="631.66" y="46.41" width="6.84" height="3.09" fill="#bed5e1"/>
<rect x="385.50" y="48.90" width="9.90" height="3.57" fill="#9fc3d6"/>
<rect x="394.80" y="48.90" width="18.82" height="3.57" fill="#8cb7cf"/>
<rect x="413.02" y="48.90" width="18.82" height="3.57" fill="#79acc8"/>
<rect x="431.24" y="48.90" width="18.82" height="3.57" fill="#5192b7"/>
<rect x="449.46" y="48.90" width="18.82" height="3.57" fill="#1f6c9f"/>
<rect x="467.68" y="48.90" width="37.04" height="3.57" fill="#176399"/>
<rect x="504.12" y="48.90" width="18.82" height="3.57" fill="#0d5791"/>
<rect x="522.34" y="48.90" width="18.82" height="3.57" fill="#135f96"/>
<rect x="540.56" y="48.90" width="37.04" height="3.57" fill="#1d6b9e"/>
<rect x="577.00" y="48.90" width="18.82" height="3.57" fill="#4d8fb5"/>
<rect x="595.22" y="48.90" width="37.04" height="3.57" fill="#7cadc8"/>
<rect x="631.66" y="48.90" width="6.84" height="3.57" fill="#b4cfdd"/>
<rect x="385.50" y="51.88" width="9.90" height="4.15" fill="#8fb9d0"/>
<rect x="394.80" y="51.88" width="18.82" height="4.15" fill="#79acc8"/>
<rect x="413.02" y="51.88" width="18.82" height="4.15" fill="#649ebf"/>
<rect x="431.24" y="51.88" width="18.82" height="4.15" fill="#3982ac"/>
<rect x="449.46" y="51.88" width="18.82" height="4.15" fill="#0e5a93"/>
<rect x="467.68" y="51.88" width="37.04" height="4.15" fill="#0a508d"/>
<rect x="504.12" y="51.88" width="18.82" height="4.15" fill="#054485"/>
<rect x="522.34" y="51.88" width="18.82" height="4.15" fill="#084c8a"/>
<rect x="540.56" y="51.88" width="37.04" height="4.15" fill="#0d5892"/>
<rect x="577.00" y="51.88" width="18.82" height="4.15" fill="#357fab"/>
<rect x="595.22" y="51.88" width="37.04" height="4.15" fill="#66a0c0"/>
<rect x="631.66" y="51.88" width="6.84" height="4.15" fill="#aac9da"/>
<rect x="385.50" y="55.42" width="9.90" height="4.83" fill="#7daec9"/>
<rect x="394.80" y="55.42" width="18.82" height="4.83" fill="#649ebf"/>
<rect x="413.02" y="55.42" width="18.82" height="4.83" fill="#4c8fb5"/>
<rect x="431.24" y="55.42" width="18.82" height="4.83" fill="#2471a2"/>
<rect x="449.46" y="55.42" width="18.82" height="4.83" fill="#064687"/>
<rect x="467.68" y="55.42" width="37.04" height="4.83" fill="#043c80"/>
<rect x="504.12" y="55.42" width="18.82" height="4.83" fill="#022f77"/>
<rect x="522.34" y="55.42" width="18.82" height="4.83" fill="#03377d"/>
<rect x="540.56" y="55.42" width="37.04" height="4.83" fill="#054586"/>
<rect x="577.00" y="55.42" width="18.82" height="4.83" fill="#206ea0"/>
<rect x="595.22" y="55.42" width="37.04" height="4.83" fill="#4f91b6"/>
<rect x="631.66" y="55.42" width="6.84" height="4.83" fill="#9dc2d5"/>
<rect x="385.50" y="59.65" width="9.90" height="5.45" fill="#6ca4c2"/>
<rect x="394.80" y="59.65" width="18.82" height="5.45" fill="#5192b7"/>
<rect x="413.02" y="59.65" width="18.82" height="5.45" fill="#3982ac"/>
<rect x="431.24" y="59.65" width="18.82" height="5.45" fill="#166399"/>
<rect x="449.46" y="59.65" width="18.82" height="5.45" fill="#03367c"/>
<rect x="467.68" y="59.65" width="37.04" height="5.45" fill="#022b75"/>
<rect x="504.12" y="59.65" width="18.82" height="5.45" fill="#011d6a"/>
<rect x="522.34" y="59.65" width="18.82" height="5.45" fill="#012670"/>
<rect x="540.56" y="59.65" width="37.04" height="5.45" fill="#02347b"/>
<rect x="577.00" y="59.65" width="18.82" height="5.45" fill="#135f97"/>
<rect x="595.22" y="59.65" width="37.04" height="5.45" fill="#3b84ae"/>
<rect x="631.66" y="59.65" width="6.84" height="5.45" fill="#90bad1"/>
<rect x="385.50" y="64.50" width="9.90" height="7.30" fill="#629dbe"/>
<rect x="394.80" y="64.50" width="18.82" height="7.30" fill="#458bb2"/>
<rect x="413.02" y="64.50" width="18.82" height="7.30" fill="#307aa8"/>
<rect x="431.24" y="64.50" width="18.82" height="7.30" fill="#0f5a93"/>
<rect x="449.46" y="64.50" width="18.82" height="7.30" fill="#022c75"/>
<rect x="467.68" y="64.50" width="37.04" height="7.30" fill="#01216d"/>
<rect x="504.12" y="64.50" width="18.82" height="7.30" fill="#001262"/>
<rect x="522.34" y="64.50" width="18.82" height="7.30" fill="#011b69"/>
<rect x="540.56" y="64.50" width="37.04" height="7.30" fill="#012a74"/>
<rect x="577.00" y="64.50" width="18.82" height="7.30" fill="#0c5691"/>
<rect x="595.22" y="64.50" width="37.04" height="7.30" fill="#327ca9"/>
<rect x="631.66" y="64.50" width="6.84" height="7.30" fill="#88b5cd"/>
<rect x="385.50" y="71.20" width="9.90" height="7.80" fill="#649ebf"/>
<rect x="394.80" y="71.20" width="18.82" height="7.80" fill="#488cb3"/>
<rect x="413.02" y="71.20" width="18.82" height="7.80" fill="#317ca9"/>
<rect x="431.24" y="71.20" width="18.82" height="7.80" fill="#105c94"/>
<rect x="449.46" y="71.20" width="18.82" height="7.80" fill="#022e77"/>
<rect x="467.68" y="71.20" width="37.04" height="7.80" fill="#01236f"/>
<rect x="504.12" y="71.20" width="18.82" height="7.80" fill="#001464"/>
<rect x="522.34" y="71.20" width="18.82" height="7.80" fill="#011d6a"/>
<rect x="540.56" y="71.20" width="37.04" height="7.80" fill="#022c75"/>
<rect x="577.00" y="71.20" width="18.82" height="7.80" fill="#0d5892"/>
<rect x="595.22" y="71.20" width="37.04" height="7.80" fill="#347eaa"/>
<rect x="631.66" y="71.20" width="6.84" height="7.80" fill="#8ab6ce"/>
<rect x="385.50" y="78.40" width="9.90" height="9.20" fill="#8bb6ce"/>
<rect x="394.80" y="78.40" width="18.82" height="9.20" fill="#74a8c5"/>
<rect x="413.02" y="78.40" width="18.82" height="9.20" fill="#5e9bbc"/>
<rect x="431.24" y="78.40" width="18.82" height="9.20" fill="#347eaa"/>
<rect x="449.46" y="78.40" width="18.82" height="9.20" fill="#0c5590"/>
<rect x="467.68" y="78.40" width="37.04" height="9.20" fill="#084b8a"/>
<rect x="504.12" y="78.40" width="18.82" height="9.20" fill="#043f82"/>
<rect x="522.34" y="78.40" width="18.82" height="9.20" fill="#064687"/>
<rect x="540.56" y="78.40" width="37.04" height="9.20" fill="#0b538f"/>
<rect x="577.00" y="78.40" width="18.82" height="9.20" fill="#307ba8"/>
<rect x="595.22" y="78.40" width="37.04" height="9.20" fill="#619cbe"/>
<rect x="631.66" y="78.40" width="6.84" height="9.20" fill="#a6c7d9"/>
<rect x="385.50" y="87.00" width="9.90" height="10.60" fill="#b6d0de"/>
<rect x="394.80" y="87.00" width="18.82" height="10.60" fill="#aac9da"/>
<rect x="413.02" y="87.00" width="18.82" height="10.60" fill="#9dc2d5"/>
<rect x="431.24" y="87.00" width="18.82" height="10.60" fill="#7eafca"/>
<rect x="449.46" y="87.00" width="18.82" height="10.60" fill="#4c8fb5"/>
<rect x="467.68" y="87.00" width="37.04" height="10.60" fill="#3e86af"/>
<rect x="504.12" y="87.00" width="18.82" height="10.60" fill="#327ca9"/>
<rect x="522.34" y="87.00" width="18.82" height="10.60" fill="#3982ad"/>
<rect x="540.56" y="87.00" width="37.04" height="10.60" fill="#498db4"/>
<rect x="577.00" y="87.00" width="18.82" height="10.60" fill="#7badc8"/>
<rect x="595.22" y="87.00" width="37.04" height="10.60" fill="#9fc3d6"/>
<rect x="631.66" y="87.00" width="6.84" height="10.60" fill="#c6dae3"/>
<rect x="385.50" y="97.00" width="9.90" height="12.60" fill="#d7e3e6"/>
<rect x="394.80" y="97.00" width="18.82" height="12.60" fill="#d3e1e5"/>
<rect x="413.02" y="97.00" width="18.82" height="12.60" fill="#cedee5"/>
<rect x="431.24" y="97.00" width="18.82" height="12.60" fill="#c4d9e3"/>
<rect x="449.46" y="97.00" width="18.82" height="12.60" fill="#b0cddc"/>
<rect x="467.68" y="97.00" width="37.04" height="12.60" fill="#abcada"/>
<rect x="504.12" y="97.00" width="18.82" height="12.60" fill="#a3c5d7"/>
<rect x="522.34" y="97.00" width="18.82" height="12.60" fill="#a8c8d9"/>
<rect x="540.56" y="97.00" width="37.04" height="12.60" fill="#afccdc"/>
<rect x="577.00" y="97.00" width="18.82" height="12.60" fill="#c3d8e2"/>
<rect x="595.22" y="97.00" width="37.04" height="12.60" fill="#cfdfe5"/>
<rect x="631.66" y="97.00" width="6.84" height="12.60" fill="#dce6e7"/>
<rect x="385.50" y="109.00" width="9.90" height="14.60" fill="#e8ece8"/>
<rect x="394.80" y="109.00" width="18.82" height="14.60" fill="#e7ece8"/>
<rect x="413.02" y="109.00" width="18.82" height="14.60" fill="#e6ebe8"/>
<rect x="431.24" y="109.00" width="18.82" height="14.60" fill="#e5eae8"/>
<rect x="449.46" y="109.00" width="18.82" height="14.60" fill="#e2e9e8"/>
<rect x="467.68" y="109.00" width="37.04" height="14.60" fill="#e1e8e7"/>
<rect x="504.12" y="109.00" width="37.04" height="14.60" fill="#e0e8e7"/>
<rect x="540.56" y="109.00" width="37.04" height="14.60" fill="#e2e8e8"/>
<rect x="577.00" y="109.00" width="18.82" height="14.60" fill="#e5eae8"/>
<rect x="595.22" y="109.00" width="37.04" height="14.60" fill="#e7ebe8"/>
<rect x="631.66" y="109.00" width="6.84" height="14.60" fill="#e9ece9"/>
<rect x="385.50" y="123.00" width="46.34" height="17.60" fill="#ebeee9"/>
<rect x="431.24" y="123.00" width="18.82" height="17.60" fill="#ebede9"/>
<rect x="449.46" y="123.00" width="128.14" height="17.60" fill="#eaede9"/>
<rect x="577.00" y="123.00" width="18.82" height="17.60" fill="#ebede9"/>
<rect x="595.22" y="123.00" width="37.04" height="17.60" fill="#ebeee9"/>
</g>
<path d="M385.0 262.5 H639.0" stroke="#868888" stroke-width="1"/>
<path d="M638.5 33.0 V263.0" stroke="#c4c4c4" stroke-width="1"/>
<path d="M385.5 33.0 V263.0" stroke="#484a4a" stroke-width="1"/>
<path d="M385.0 33.5 H639.0" stroke="#4d4b47" stroke-width="1"/>
<rect x="128.0" y="315.0" width="449.0" height="27.0" fill="url(#cb)"/>
<path d="M128.5 315.0 V342.5 M576.5 315.0 V342.5 M128.0 315.5 H577.0" stroke="#3c3c3c" stroke-width="1" fill="none"/>
<path d="M128.0 342.0 H577.0" stroke="#454545" stroke-width="1"/>
<path d="M173.30 342.0 v-4.6" stroke="#3c3c3c" stroke-width="1.1"/>
<path d="M218.10 342.0 v-4.6" stroke="#3c3c3c" stroke-width="1.1"/>
<path d="M262.90 342.0 v-4.6" stroke="#3c3c3c" stroke-width="1.1"/>
<path d="M307.70 342.0 v-4.6" stroke="#3c3c3c" stroke-width="1.1"/>
<path d="M352.50 342.0 v-4.6" stroke="#3c3c3c" stroke-width="1.1"/>
<path d="M397.30 342.0 v-4.6" stroke="#3c3c3c" stroke-width="1.1"/>
<path d="M442.10 342.0 v-4.6" stroke="#3c3c3c" stroke-width="1.1"/>
<path d="M486.90 342.0 v-4.6" stroke="#3c3c3c" stroke-width="1.1"/>
<path d="M531.70 342.0 v-4.6" stroke="#3c3c3c" stroke-width="1.1"/>
<g style="filter:grayscale(1)">
<text transform="translate(53.40 281.90) scale(0.980 1)" class="tk" text-anchor="middle">0</text>
<text transform="translate(137.50 281.90) scale(0.980 1)" class="tk" text-anchor="middle">10</text>
<text transform="translate(221.60 281.90) scale(0.980 1)" class="tk" text-anchor="middle">20</text>
<text transform="translate(305.70 281.90) scale(0.980 1)" class="tk" text-anchor="middle">30</text>
<text transform="translate(46.90 38.50) scale(0.980 1)" class="tk" text-anchor="end">0</text>
<text transform="translate(46.90 83.70) scale(0.980 1)" class="tk" text-anchor="end">500</text>
<text transform="translate(46.90 128.90) scale(0.980 1)" class="tk" text-anchor="end">1000</text>
<text transform="translate(46.90 174.10) scale(0.980 1)" class="tk" text-anchor="end">1500</text>
<text transform="translate(46.90 219.30) scale(0.980 1)" class="tk" text-anchor="end">2000</text>
<text transform="translate(46.90 264.50) scale(0.980 1)" class="tk" text-anchor="end">2500</text>
<text transform="translate(179.90 302.50) scale(0.975 1)" class="lb" text-anchor="middle">Range (km)</text>
<text transform="translate(179.30 25.80) scale(0.957 1)" class="tt" text-anchor="middle">Warm Eddy</text>
<text transform="translate(385.40 281.90) scale(0.980 1)" class="tk" text-anchor="middle">0</text>
<text transform="translate(469.50 281.90) scale(0.980 1)" class="tk" text-anchor="middle">10</text>
<text transform="translate(553.60 281.90) scale(0.980 1)" class="tk" text-anchor="middle">20</text>
<text transform="translate(637.70 281.90) scale(0.980 1)" class="tk" text-anchor="middle">30</text>
<text transform="translate(378.90 38.50) scale(0.980 1)" class="tk" text-anchor="end">0</text>
<text transform="translate(378.90 83.70) scale(0.980 1)" class="tk" text-anchor="end">500</text>
<text transform="translate(378.90 128.90) scale(0.980 1)" class="tk" text-anchor="end">1000</text>
<text transform="translate(378.90 174.10) scale(0.980 1)" class="tk" text-anchor="end">1500</text>
<text transform="translate(378.90 219.30) scale(0.980 1)" class="tk" text-anchor="end">2000</text>
<text transform="translate(378.90 264.50) scale(0.980 1)" class="tk" text-anchor="end">2500</text>
<text transform="translate(511.90 302.50) scale(0.975 1)" class="lb" text-anchor="middle">Range (km)</text>
<text transform="translate(510.80 25.80) scale(0.975 1)" class="tt" text-anchor="middle">Cold Eddy</text>
<text transform="translate(127.50 363.40) scale(0.795 1)" class="ck" text-anchor="middle">-25</text>
<text transform="translate(172.20 363.40) scale(0.795 1)" class="ck" text-anchor="middle">-20</text>
<text transform="translate(216.90 363.40) scale(0.795 1)" class="ck" text-anchor="middle">-15</text>
<text transform="translate(261.60 363.40) scale(0.795 1)" class="ck" text-anchor="middle">-10</text>
<text transform="translate(306.30 363.40) scale(0.795 1)" class="ck" text-anchor="middle">-5</text>
<text transform="translate(351.00 363.40) scale(0.795 1)" class="ck" text-anchor="middle">0</text>
<text transform="translate(395.70 363.40) scale(0.795 1)" class="ck" text-anchor="middle">5</text>
<text transform="translate(440.40 363.40) scale(0.795 1)" class="ck" text-anchor="middle">10</text>
<text transform="translate(485.10 363.40) scale(0.795 1)" class="ck" text-anchor="middle">15</text>
<text transform="translate(529.80 363.40) scale(0.795 1)" class="ck" text-anchor="middle">20</text>
<text transform="translate(574.50 363.40) scale(0.795 1)" class="ck" text-anchor="middle">25</text>
<text transform="translate(352.50 383.00) scale(0.950 1)" class="cl" text-anchor="middle">Sound Speed Deviation (m/s)</text>
</g>
</svg>
</body></html>
